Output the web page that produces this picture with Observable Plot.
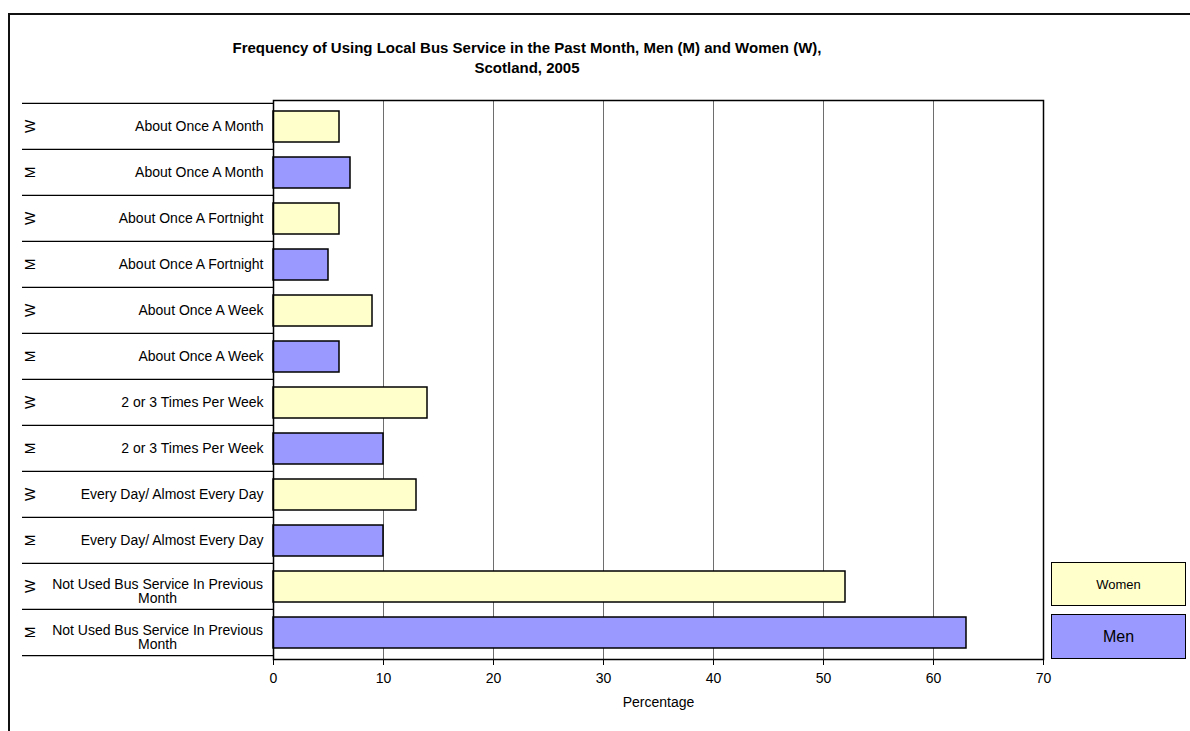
<!DOCTYPE html>
<html>
<head>
<meta charset="utf-8">
<script src="https://cdn.jsdelivr.net/npm/d3@7"></script>
<script src="https://cdn.jsdelivr.net/npm/@observablehq/plot@0.6"></script>
<style>
  html, body { margin: 0; padding: 0; background: #fff; }
  body { width: 1190px; height: 731px; position: relative; overflow: hidden; font-family: "Liberation Sans", Arial, sans-serif; }
  #frame { position: absolute; left: 8px; top: 13px; width: 1400px; height: 1000px; border-left: 2px solid #111; border-top: 2px solid #111; }
  #title { position: absolute; left: 0; top: 38px; width: 1054px; text-align: center; font-weight: bold; font-size: 15px; line-height: 20px; color: #000; }
  #chart { position: absolute; left: 0; top: 90px; }
  .lg { position: absolute; left: 1051px; width: 133px; border: 1.5px solid #000; display: flex; align-items: center; justify-content: center; color: #000; }
</style>
</head>
<body>
<div id="frame"></div>
<div id="title">Frequency of Using Local Bus Service in the Past Month, Men (M) and Women (W),<br>Scotland, 2005</div>
<div id="chart"></div>
<div id="legend"></div>
<script>
// ---- data ----
const categories = [
  "About Once A Month",
  "About Once A Fortnight",
  "About Once A Week",
  "2 or 3 Times Per Week",
  "Every Day/ Almost Every Day",
  "Not Used Bus Service In Previous Month"
];
const women = [6, 6, 9, 14, 13, 52];
const men = [7, 5, 6, 10, 10, 63];
const sexes = ["W", "M"];
const sexNames = ["Women", "Men"];
const sexColors = ["#FFFFCC", "#9999FF"];
const xTicks = [0, 10, 20, 30, 40, 50, 60, 70];
const xLabel = "Percentage";

// ---- table built from arrays ----
const rows = [];
categories.forEach((c, i) => {
  rows.push({key: "W|" + c, sex: "W", label: c, value: women[i]});
  rows.push({key: "M|" + c, sex: "M", label: c, value: men[i]});
});
const keys = rows.map(d => d.key);

function wrapLines(s, max = 32) {
  const words = s.split(" ");
  const lines = [];
  let cur = "";
  for (const w of words) {
    if (cur && (cur + " " + w).length > max) { lines.push(cur); cur = w; }
    else cur = cur ? cur + " " + w : w;
  }
  if (cur) lines.push(cur);
  return lines;
}
const LABEL_FONT = "14px 'Liberation Sans', Arial, sans-serif";
const ctx = document.createElement("canvas").getContext("2d");
ctx.font = LABEL_FONT;
rows.forEach(d => {
  d.lines = wrapLines(d.label);
  d.blockWidth = Math.max(...d.lines.map(l => ctx.measureText(l).width));
});
const singleRows = rows.filter(d => d.lines.length === 1);
const multiRows = rows.filter(d => d.lines.length > 1);

// custom mark: row separators and rotated W/M letters in the left label column
function leftTable(index, scales, values, dims) {
  const y = scales.y;
  const step = y.step();
  const half = y.paddingInner() * step / 2;
  const right = dims.marginLeft;
  const left = dims.marginLeft - 251;
  const g = d3.create("svg:g");
  const bounds = keys.map(k => y(k) - half);
  bounds.push(y(keys[keys.length - 1]) + y.bandwidth() + half);
  g.selectAll("line").data(bounds).join("line")
    .attr("x1", left).attr("x2", right)
    .attr("y1", d => d).attr("y2", d => d)
    .attr("stroke", "#000").attr("stroke-width", 1.2);
  g.selectAll("text.sex").data(rows).join("text")
    .attr("class", "sex")
    .attr("transform", d => `translate(${left + 8},${y(d.key) + y.bandwidth() / 2}) rotate(-90)`)
    .attr("text-anchor", "middle")
    .attr("dominant-baseline", "central")
    .attr("font-size", 14)
    .attr("fill", "#000")
    .text(d => d.sex);
  // multi-line labels: each line centred on the right-aligned block
  g.selectAll("text.ml").data(multiRows).join("text")
    .attr("class", "ml")
    .attr("x", d => right - 10 - d.blockWidth / 2)
    .attr("y", d => y(d.key) + y.bandwidth() / 2)
    .attr("text-anchor", "middle")
    .attr("font-size", 14)
    .attr("fill", "#000")
    .selectAll("tspan").data(d => d.lines.map((l, j, a) => ({l, j, n: a.length}))).join("tspan")
      .attr("x", function() { return this.parentNode.getAttribute("x"); })
      .attr("dy", t => t.j === 0 ? `${(-(t.n - 1) / 2 * 1.05 + 0.68).toFixed(2)}em` : "1.05em")
      .text(t => t.l);
  return g.node();
}

const plot = Plot.plot({
  width: 1190,
  height: 641,
  marginTop: 10,
  marginLeft: 273,
  marginRight: 147,
  marginBottom: 72,
  style: {fontFamily: "'Liberation Sans', Arial, sans-serif", fontSize: "14px", color: "#000", background: "transparent"},
  x: {
    domain: [0, 70],
    ticks: xTicks,
    tickSize: 6,
    tickPadding: 8,
    label: null
  },
  y: {domain: keys, axis: null, paddingInner: 0.33, paddingOuter: 0.165},
  color: {domain: sexes, range: sexColors},
  marks: [
    Plot.ruleX(xTicks, {stroke: "#6e6e6e", strokeWidth: 1}),
    Plot.barX(rows, {x: "value", y: "key", fill: "sex", stroke: "#000", strokeWidth: 1.5}),
    Plot.text(singleRows, {y: "key", text: "label", frameAnchor: "left", textAnchor: "end", dx: -10, fontSize: 14, fill: "#000"}),
    Plot.text([xLabel], {text: d => d, frameAnchor: "bottom", dy: 47, fontSize: 14, fill: "#000"}),
    leftTable,
    Plot.frame({stroke: "#000", strokeWidth: 1.5})
  ]
});
document.getElementById("chart").appendChild(plot);

// legend (HTML) from the same arrays
const legend = document.getElementById("legend");
const lgTops = [562, 614];
const lgSizes = [13, 16];
sexNames.forEach((n, i) => {
  const d = document.createElement("div");
  d.className = "lg";
  d.style.top = lgTops[i] + "px";
  d.style.height = (i === 0 ? 42 : 43) + "px";
  d.style.background = sexColors[i];
  d.style.fontSize = lgSizes[i] + "px";
  d.textContent = n;
  legend.appendChild(d);
});
</script>
</body>
</html>
